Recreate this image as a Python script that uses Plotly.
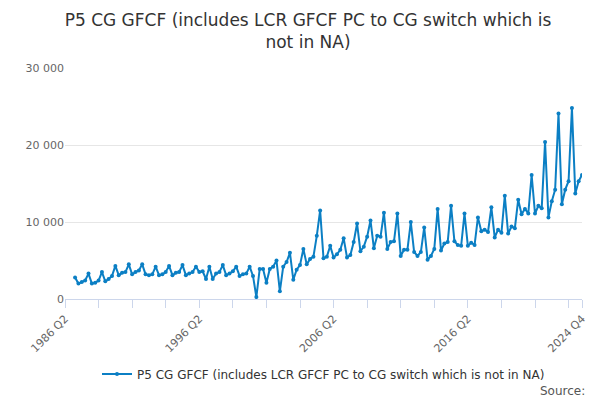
import plotly.graph_objects as go
import numpy as np

"""
Quarterly P5 CG GFCF series redrawn as a line chart.
"""

# values by year, Q1..Q4
values = {
    1987: [2800, 2000, 2200, 2400],
    1988: [3300, 2000, 2100, 2400],
    1989: [3500, 2300, 2600, 3000],
    1990: [4300, 3100, 3400, 3500],
    1991: [4500, 3200, 3500, 3700],
    1992: [4500, 3200, 3100, 3200],
    1993: [4200, 3100, 3200, 3500],
    1994: [4300, 3100, 3400, 3500],
    1995: [4400, 3100, 3300, 3500],
    1996: [4200, 3500, 3600, 2600],
    1997: [4200, 2600, 3300, 3500],
    1998: [4400, 3100, 3300, 3600],
    1999: [4200, 3000, 3200, 3300],
    2000: [4200, 3000, 250, 3900],
    2001: [3900, 2100, 3900, 4200],
    2002: [5000, 1000, 4200, 4800],
    2003: [6000, 2500, 3800, 4400],
    2004: [6500, 4500, 5200, 5500],
    2005: [8200, 11500, 5300, 5500],
    2006: [6900, 5400, 5800, 6400],
    2007: [7900, 5400, 5700, 7400],
    2008: [9800, 6200, 6800, 8100],
    2009: [10200, 6600, 8200, 8100],
    2010: [11200, 6500, 7400, 7500],
    2011: [11100, 5600, 6400, 6400],
    2012: [10000, 6100, 5600, 6100],
    2013: [9300, 5100, 5600, 6500],
    2014: [11700, 6300, 7200, 7400],
    2015: [12100, 7500, 7000, 6900],
    2016: [11100, 6900, 7300, 7000],
    2017: [10600, 8800, 9000, 8700],
    2018: [11900, 8000, 9000, 8600],
    2019: [13400, 8500, 9400, 9200],
    2020: [12900, 11000, 11700, 11100],
    2021: [16100, 11100, 12100, 11800],
    2022: [20400, 10600, 12700, 14200],
    2023: [24100, 12300, 14200, 15300],
    2024: [24800, 13700, 15300, 16100],
}

x = []
y = []
for year, qs in values.items():
    for q, v in enumerate(qs):
        x.append(year + q / 4)
        y.append(v)

tickvals = list(np.arange(1986.25, 2024, 2.5)) + [2024.75]
ticktext = []
for t in tickvals:
    year = int(t)
    q = int(round((t - year) * 4)) + 1
    label = "%d Q%d" % (year, q)
    ticktext.append(label if label in ("1986 Q2", "1996 Q2", "2006 Q2", "2016 Q2", "2024 Q4") else "")

fig = go.Figure()
fig.add_trace(go.Scatter(x=x,
                         y=y,
                         mode='lines+markers',
                         line=dict(color="#0b7fc4", width=2),
                         marker=dict(size=4, color="#0b7fc4"),
                         name="P5 CG GFCF (includes LCR GFCF PC to CG switch which is not in NA)"
                         ))
fig.add_annotation(text="Source:", x=1.01, y=-0.40, xref="paper", yref="paper",
                   xanchor="right", yanchor="middle", showarrow=False,
                   font=dict(size=12, color="#555555"))
fig.update_layout(template="plotly_white",
                  width=600,
                  height=400,
                  separators=". ",
                  font=dict(family="DejaVu Sans", color="#555555"),
                  title=dict(text="P5 CG GFCF (includes LCR GFCF PC to CG switch which is<br>not in NA)",
                             x=0.5, xanchor="center", y=0.955, yref="container", yanchor="top",
                             font=dict(size=17, color="#333333")),
                  margin=dict(l=57, r=26, t=60, b=109),
                  showlegend=True,
                  legend=dict(orientation="h", x=0.5, xanchor="center", y=-0.325, yanchor="middle",
                              font=dict(size=12, color="#333333")),
                  xaxis=dict(range=[1986.25, 2024.75], tickvals=tickvals, ticktext=ticktext,
                             tickangle=-45, showgrid=False, showline=True, linecolor="#ccd6eb",
                             ticks="outside", tickcolor="#ccd6eb", ticklen=8, zeroline=False,
                             tickfont=dict(size=11, color="#666666")),
                  yaxis=dict(range=[0, 30000], tickvals=[0, 10000, 20000, 30000],
                             tickformat=",d", gridcolor="#e6e6e6", zeroline=False,
                             tickfont=dict(size=11, color="#666666"))
                  )
fig.write_html("out.html")
